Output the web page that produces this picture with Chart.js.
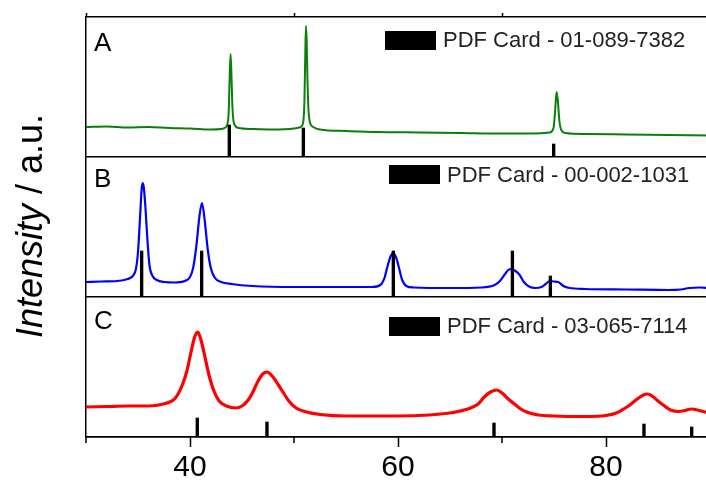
<!DOCTYPE html>
<html>
<head>
<meta charset="utf-8">
<script src="https://cdn.jsdelivr.net/npm/chart.js@4.4.1/dist/chart.umd.min.js"></script>
<style>
  html, body { margin: 0; padding: 0; background: #fff; overflow: hidden; }
  #wrap { width: 710px; height: 481px; }
</style>
</head>
<body>
<div id="wrap"><canvas id="xrd" width="710" height="481"></canvas></div>
<script>
// 2-theta in degrees, intensity in arbitrary units (each panel runs 0..140)
const panelLetters = ['A', 'B', 'C'];
const cardLabels = ['PDF Card - 01-089-7382', 'PDF Card - 00-002-1031', 'PDF Card - 03-065-7114'];
const xTickLabels = [40, 60, 80];
const minorTicks = [30, 50, 70, 90];

const scanA = [
    [30, 30], [32, 30.5], [34, 29.5], [36, 30], [38, 29], [40, 28.5], [42, 27.5], [43, 28],
    [43.4, 29.5], [43.6, 33], [43.72, 45], [43.8, 75], [43.9, 103], [43.97, 88], [44.05, 58],
    [44.14, 40], [44.3, 32], [44.7, 29], [46, 28], [48, 27.5], [50, 28.5], [50.5, 29.5],
    [50.85, 33], [51.0, 55], [51.08, 100], [51.15, 131], [51.22, 115], [51.3, 75], [51.4, 46],
    [51.55, 34], [51.85, 30], [52.5, 27.5], [55, 26], [58, 25], [62, 24.5], [66, 24], [70, 23.5],
    [73, 23.5], [74.6, 24.5], [74.95, 29], [75.1, 45], [75.25, 65], [75.38, 55], [75.52, 36],
    [75.7, 27], [76.1, 24], [78, 23], [82, 22.5], [86, 22], [90, 21.5]
];
const scanB = [
    [30, 15], [31.5, 15.5], [33, 16], [34, 18], [34.5, 21], [34.8, 28], [35.0, 45], [35.2, 80],
    [35.35, 108], [35.45, 114], [35.55, 110], [35.7, 92], [35.9, 58], [36.1, 32], [36.4, 21],
    [36.8, 17], [37.5, 15], [38.5, 14.5], [39.5, 16], [40.0, 20], [40.3, 29], [40.6, 50],
    [40.9, 80], [41.15, 94], [41.4, 78], [41.7, 48], [42.0, 29], [42.4, 19], [43, 15], [44, 13],
    [46, 11], [50, 10], [55, 10], [57.5, 10], [58.3, 12], [58.7, 19], [59.0, 31], [59.3, 41],
    [59.55, 44], [59.8, 40], [60.1, 29], [60.4, 17], [60.8, 11], [61.5, 9.5], [65, 9], [68, 9.5],
    [69.3, 12], [69.8, 16], [70.3, 23], [70.6, 27], [70.9, 28], [71.3, 26], [71.7, 22], [72.1, 15],
    [72.6, 10.5], [73.2, 9], [73.8, 10], [74.2, 13], [74.6, 16], [75.0, 15.5], [75.4, 15],
    [75.9, 11], [76.5, 9], [78, 8], [82, 7.5], [86, 7], [87.2, 7.5], [88, 9], [89, 9.5], [90, 9]
];
const scanC = [
    [30, 30], [32, 30.5], [34, 31], [36, 31], [37, 32], [37.8, 34], [38.4, 37], [38.8, 42],
    [39.3, 53], [39.7, 66], [40.1, 85], [40.45, 100], [40.75, 105], [41.0, 99], [41.4, 82],
    [41.8, 63], [42.3, 46], [42.8, 36], [43.5, 31], [44.4, 29], [45.0, 31], [45.6, 37], [46.0, 44],
    [46.5, 55], [47.0, 63], [47.4, 65], [47.9, 61], [48.5, 52], [49.0, 44], [49.5, 36], [50.2, 29],
    [51.2, 25], [52.5, 22.5], [55, 21], [60, 21], [63, 22], [65, 24], [66, 26], [67, 29],
    [67.7, 33], [68.3, 40], [68.9, 45], [69.5, 47], [70.0, 44], [70.6, 38], [71.2, 33], [71.8, 28],
    [72.5, 24.5], [73.5, 22], [75, 21], [78, 20.5], [80, 21.5], [81, 24], [81.7, 28], [82.3, 32],
    [83.0, 38], [83.6, 42], [84.0, 43], [84.5, 40.5], [85.0, 36], [85.5, 32], [86.2, 27],
    [87, 25.5], [87.6, 26.5], [88.2, 28], [88.8, 27], [89.5, 25], [90, 24]
];

// reference card lines: [2-theta, relative height]
const sticksA = [[43.78, 32], [50.9, 29], [74.97, 13]];
const sticksB = [[35.35, 46], [41.12, 46], [59.55, 46], [71.0, 46], [74.65, 21]];
const sticksC = [[40.7, 19], [47.4, 15], [69.23, 14], [83.65, 13], [88.24, 10]];

const FONT = 'Arial, "Liberation Sans", sans-serif';
const panelIds = ['yA', 'yB', 'yC'];
// where the letter and the card key sit inside each panel (px from panel top-left)
const keySpots = [
    { letterY: 34, boxX: 299, boxY: 14, textY: 30 },
    { letterY: 30, boxX: 303, boxY: 8, textY: 25 },
    { letterY: 32, boxX: 303, boxY: 20, textY: 36 }
];

const panelAxis = () => ({
    type: 'linear',
    stack: 'panels',
    position: 'left',
    min: 0,
    max: 140,
    afterBuildTicks: axis => { axis.ticks = [{ value: 0 }]; },
    ticks: { display: false },
    grid: { drawTicks: false, color: '#000', lineWidth: 1.5 },
    border: { color: '#000', width: 1.5 },
    afterFit: axis => { axis.width = 86; }
});

const lineSet = (data, color, width, axis) => ({
    type: 'line',
    data: data,
    yAxisID: axis,
    borderColor: color,
    borderWidth: width,
    pointRadius: 0,
    cubicInterpolationMode: 'monotone',
    order: 2
});

const stickSet = (label, data, axis) => ({
    type: 'bar',
    label: label,
    data: data.map(([x, y]) => ({ x: x, y: y })),
    yAxisID: axis,
    backgroundColor: '#000',
    barThickness: 2.7,
    grouped: false,
    order: 1
});

const annotate = {
    id: 'annotate',
    afterDraw(chart) {
        const ctx = chart.ctx;
        const x = chart.scales.x;
        ctx.save();
        ctx.fillStyle = '#000';
        ctx.strokeStyle = '#000';

        // short minor ticks under the bottom axis
        ctx.lineWidth = 1.5;
        minorTicks.forEach(v => {
            const px = x.getPixelForValue(v);
            ctx.beginPath();
            ctx.moveTo(px, x.top);
            ctx.lineTo(px, x.top + 6);
            ctx.stroke();
        });

        // panel letters and PDF card keys
        panelIds.forEach((id, i) => {
            const s = chart.scales[id];
            const spot = keySpots[i];
            ctx.font = '26px ' + FONT;
            ctx.textBaseline = 'alphabetic';
            ctx.fillText(panelLetters[i], x.left + 8, s.top + spot.letterY);
            ctx.fillRect(x.left + spot.boxX, s.top + spot.boxY, 51, 19);
            ctx.font = '22px ' + FONT;
            ctx.fillStyle = '#222';
            ctx.fillText(cardLabels[i], x.left + spot.boxX + 58, s.top + spot.textY);
            ctx.fillStyle = '#000';
        });

        // y title: italic "Intensity" followed by " / a.u."
        ctx.translate(42, 226);
        ctx.rotate(-Math.PI / 2);
        ctx.font = 'italic 36px ' + FONT;
        const w1 = ctx.measureText('Intensity').width;
        ctx.font = '36px ' + FONT;
        const w2 = ctx.measureText(' / a.u.').width;
        const start = -(w1 + w2) / 2;
        ctx.font = 'italic 36px ' + FONT;
        ctx.fillText('Intensity', start, 0);
        ctx.font = '36px ' + FONT;
        ctx.fillText(' / a.u.', start + w1, 0);
        ctx.restore();
    }
};

new Chart(document.getElementById('xrd'), {
    data: {
        datasets: [
            lineSet(scanA, '#0a800a', 2, 'yA'),
            lineSet(scanB, '#0000ff', 2.2, 'yB'),
            lineSet(scanC, '#ff0000', 3.2, 'yC'),
            stickSet(cardLabels[0], sticksA, 'yA'),
            stickSet(cardLabels[1], sticksB, 'yB'),
            stickSet(cardLabels[2], sticksC, 'yC')
        ]
    },
    options: {
        responsive: false,
        animation: false,
        devicePixelRatio: 1,
        layout: { padding: 0 },
        plugins: { legend: { display: false }, tooltip: { enabled: false } },
        scales: {
            x: {
                type: 'linear',
                position: 'bottom',
                min: 30,
                max: 90,
                offset: false,
                afterBuildTicks: axis => { axis.ticks = xTickLabels.map(v => ({ value: v })); },
                ticks: { font: { family: FONT, size: 30 }, color: '#000', padding: 3, maxRotation: 0 },
                grid: { offset: false, drawOnChartArea: false, color: '#000', tickLength: 10, tickWidth: 1.5 },
                border: { color: '#000', width: 1.5 },
                afterFit: axis => { axis.height = 44; }
            },
            xTop: {
                type: 'linear',
                position: 'top',
                min: 30,
                max: 90,
                offset: false,
                afterBuildTicks: axis => { axis.ticks = minorTicks.map(v => ({ value: v })); },
                ticks: { display: false },
                grid: { offset: false, drawOnChartArea: false, color: '#000', tickLength: 4, tickWidth: 1.5 },
                border: { color: '#000', width: 1.5 },
                afterFit: axis => { axis.height = 17; }
            },
            // stacked axes are laid out bottom-up, so the lowest panel comes first
            yC: panelAxis(),
            yB: panelAxis(),
            yA: panelAxis()
        }
    },
    plugins: [annotate]
});
</script>
</body>
</html>
